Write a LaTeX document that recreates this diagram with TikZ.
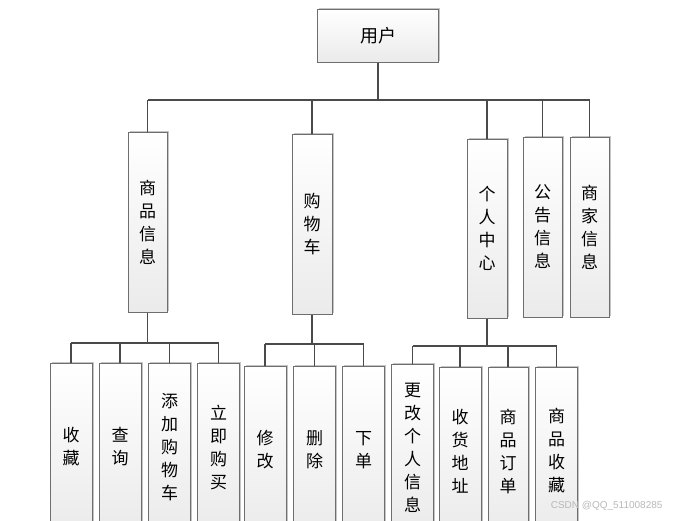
\documentclass[tikz,border=0pt]{standalone}
\usepackage{fontspec}
\newfontfamily\cjk{Noto Sans CJK SC}
\setmainfont{Liberation Sans}
\usetikzlibrary{shadows}
\definecolor{boxline}{HTML}{6E6E6E}
\definecolor{connline}{HTML}{4A4A4A}
\tikzset{
  box/.style={draw=boxline, line width=1pt, top color=white, bottom color=gray!16,
    drop shadow={shadow xshift=1.5pt, shadow yshift=1.5pt, fill=gray, opacity=0.45},
    inner sep=0pt, align=center, font=\cjk\fontsize{17}{23}\selectfont},
  topbox/.style={box, minimum width=39pt, minimum height=180pt},
  leafbox/.style={box, minimum width=42pt, minimum height=168pt},
  conn/.style={draw=connline, line width=1.5pt}
}
\begin{document}
\begin{tikzpicture}[x=1pt,y=-1pt]
\useasboundingbox (0,0) rectangle (685,520);
\clip (0,0) rectangle (685,520);
\fill[white] (0,0) rectangle (685,520);
% root
\node[box, minimum width=121pt, minimum height=53pt, font=\cjk\fontsize{18}{22}\selectfont] (user) at (378,35.5) {用户};
% level 1
\node[topbox] (b1) at (147.5,222) {商\\品\\信\\息};
\node[topbox, minimum width=40pt] (b2) at (312,224) {购\\物\\车};
\node[topbox, minimum width=40pt, minimum height=179pt] (b3) at (487,228.5) {个\\人\\中\\心};
\node[topbox] (b4) at (542.5,227) {公\\告\\信\\息};
\node[topbox] (b5) at (589.5,227) {商\\家\\信\\息};
% level 2 - 商品信息
\node[leafbox] (c1) at (71,447) {收\\藏};
\node[leafbox] (c2) at (120,447) {查\\询};
\node[leafbox] (c3) at (169.5,447) {添\\加\\购\\物\\车};
\node[leafbox] (c4) at (218.5,447) {立\\即\\购\\买};
% level 2 - 购物车
\node[leafbox] (d1) at (265,450) {修\\改};
\node[leafbox] (d2) at (314.5,450) {删\\除};
\node[leafbox] (d3) at (363.5,450) {下\\单};
% level 2 - 个人中心
\node[leafbox] (e1) at (412.5,448) {更\\改\\个\\人\\信\\息};
\node[leafbox] (e2) at (460,451) {收\\货\\地\\址};
\node[leafbox, minimum width=40pt] (e3) at (508,451) {商\\品\\订\\单};
\node[leafbox] (e4) at (556.5,451) {商\\品\\收\\藏};
% junction levels
\coordinate (j1) at (0,100);
\coordinate (j2) at (0,343);
\coordinate (j3) at (0,344);
\coordinate (j4) at (0,346);
% connectors root
\draw[conn] (user.south) -- (user.south |- j1);
\draw[conn] (b1.north |- j1) -- (b5.north |- j1);
\foreach \n in {b1,b2,b3,b4,b5} \draw[conn] (\n.north) -- (\n.north |- j1);
% connectors 商品信息
\draw[conn] (b1.south) -- (b1.south |- j2);
\draw[conn] (c1.north |- j2) -- (c4.north |- j2);
\foreach \n in {c1,c2,c3,c4} \draw[conn] (\n.north) -- (\n.north |- j2);
% connectors 购物车
\draw[conn] (b2.south) -- (b2.south |- j3);
\draw[conn] (d1.north |- j3) -- (d3.north |- j3);
\foreach \n in {d1,d2,d3} \draw[conn] (\n.north) -- (\n.north |- j3);
% connectors 个人中心
\draw[conn] (b3.south) -- (b3.south |- j4);
\draw[conn] (e1.north |- j4) -- (e4.north |- j4);
\foreach \n in {e1,e2,e3,e4} \draw[conn] (\n.north) -- (\n.north |- j4);
% watermark
\node[text=gray!55, font=\fontsize{10}{12}\selectfont, anchor=east] (wm) at (666,506) {CSDN @QQ\_511008285};
\end{tikzpicture}
\end{document}
